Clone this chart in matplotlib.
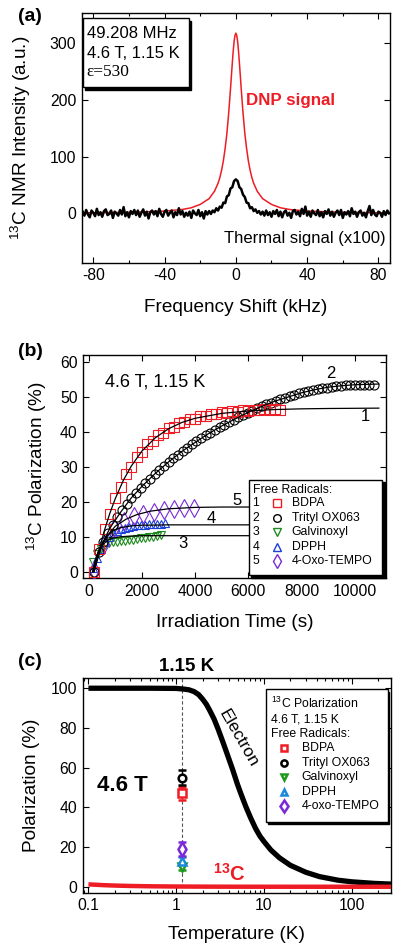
import numpy as np
import matplotlib
matplotlib.use("Agg")
import matplotlib.pyplot as plt
from matplotlib.patches import Rectangle

plt.rcParams['font.family'] = ['Liberation Sans', 'DejaVu Sans']
plt.rcParams['mathtext.fontset'] = 'custom'
plt.rcParams['mathtext.rm'] = 'Liberation Sans'
plt.rcParams['mathtext.it'] = 'Liberation Sans:italic'
plt.rcParams['mathtext.bf'] = 'Liberation Sans:bold'
plt.rcParams['axes.unicode_minus'] = False

# ---------------- (a) NMR spectra ----------------
dnp_freq = [-86, -60, -40, -30, -25, -20, -15, -12, -10, -9, -8, -7, -6, -5, -4, -3.5, -3, -2.5, -2, -1.5, -1, -0.5,
            0, 0.5, 1, 1.5, 2, 2.5, 3, 3.5, 4, 5, 6, 7, 8, 9, 10, 12, 15, 20, 25, 30, 40, 60, 86]
dnp_signal = [0.9, 1.8, 4.0, 6.9, 9.9, 15.8, 26, 39, 53, 63, 76, 93, 115, 142, 178, 199, 220, 243, 265, 286, 303, 314,
              318, 314, 303, 286, 265, 243, 220, 199, 178, 142, 115, 93, 76, 63, 53, 39, 26, 15.8, 9.9, 6.9, 4.0, 1.8, 0.9]

thermal_freq = list(range(-86, 87))
thermal_signal = [
    3, -4, 6, -2, -7, 5, 1, -5, 8, -3,
    2, -6, 4, 7, -3, -1, 5, -8, 3, 0,
    -4, 6, -2, 11, -5, 2, -7, 4, -1, 6,
    -3, 5, -6, 1, 7, -4, 3, -9, 2, 5,
    -2, 4, -5, 8, -1, -6, 3, 6, -4, 1,
    5, -7, 2, -3, 9, -2, 4, -6, 1, -4,
    3, -8, 5, 0, -3, 6, -5, 2, -9, 4,
    -2, 4, -1, 5, 2, 9, 5, 12, 10, 19, 18, 30, 32, 44, 46, 57,
    60,
    57, 46, 43, 33, 29, 19, 18, 9, 11, 4, 7, 1, 4, -2, 3, -4,
    5, -3, 2, -6, 4, -1, 6, -5, 3, -7,
    2, 5, -4, 1, -8, 4, 6, -2, 3, -5,
    8, -1, 12, -4, 3, -6, 5, 0, -3, 6,
    -5, 2, -7, 4, -1, 7, -4, 3, -6, 1,
    5, -3, 6, -8, 2, -2, 4, -5, 9, -1,
    3, -6, 2, 5, -4, 1, -7, 4, 13, -3,
    6, -2, -5, 3, 1, -6, 4, -3, 5, 0]

# ---------------- (b) buildup curves ----------------
bdpa_t = list(range(200, 7201, 200))
bdpa_p = [0.0, 6.6, 12.3, 16.5, 21.2, 24.3, 27.9, 30.0, 32.8, 34.3, 36.4, 37.4, 39.1, 39.8, 41.0, 41.5,
          42.5, 42.8, 43.6, 43.8, 44.5, 44.5, 45.1, 45.2, 45.6, 45.5, 45.9, 45.8, 46.2, 46.1, 46.4, 46.2,
          46.5, 46.3, 46.6, 46.4]
trityl_t = list(range(200, 10701, 175))
trityl_p = [0.0, 5.5, 8.5, 11.0, 13.3, 15.6, 17.6, 19.4, 21.1, 22.6, 24.0, 25.3, 26.6, 27.9, 29.1, 30.3,
            31.4, 32.5, 33.5, 34.5, 35.5, 36.4, 37.3, 38.2, 39.0, 39.8, 40.6, 41.4, 42.1, 42.8, 43.5, 44.2,
            44.8, 45.5, 46.1, 46.7, 47.3, 47.9, 48.4, 48.9, 49.4, 49.8, 50.3, 50.7, 51.0, 51.4, 51.7, 52.0,
            52.3, 52.5, 52.7, 52.9, 53.1, 53.2, 53.3, 53.4, 53.5, 53.5, 53.5, 53.4, 53.4]
galv_t = list(range(150, 2701, 150))
galv_p = [2.8, 5.0, 6.6, 7.6, 8.1, 8.4, 8.6, 8.8, 8.9, 9.0, 9.2, 9.3, 9.5, 9.6, 9.8, 9.9, 10.2, 10.4]
dpph_t = list(range(150, 2851, 150))
dpph_p = [1.0, 4.0, 6.5, 8.5, 10.0, 11.0, 11.7, 12.2, 12.6, 12.9, 13.1, 13.3, 13.4, 13.5, 13.6, 13.6,
          13.7, 13.7, 13.8]
tempo_t = [185, 560, 935, 1310, 1685, 2060, 2440, 2815, 3190, 3570, 3944]
tempo_p = [0.5, 8.0, 12.5, 14.5, 15.8, 16.6, 17.2, 17.7, 18.0, 18.2, 18.3]

fit1_t = [200, 400, 600, 800, 1000, 1300, 1600, 2000, 2500, 3000, 3500, 4000, 5000, 6000, 7000, 8000, 9000, 10900]
fit1_p = [0, 6.4, 12.0, 16.8, 20.9, 26.1, 30.2, 34.5, 38.3, 40.9, 42.7, 43.9, 45.3, 46.0, 46.4, 46.6, 46.7, 46.8]
fit2_t = [200, 500, 800, 1200, 1600, 2000, 2500, 3000, 3500, 4000, 4500, 5000, 5500, 6000, 6500, 7000, 7500,
          8000, 8500, 9000, 9500, 10000, 10900]
fit2_p = [0, 7.8, 12.5, 17.0, 21.1, 24.4, 28.1, 31.4, 34.4, 37.0, 39.5, 41.7, 43.7, 45.6, 47.3, 48.8, 50.0,
          51.2, 52.1, 52.8, 53.2, 53.5, 53.7]
fit3_t = [150, 250, 350, 500, 700, 900, 1200, 1600, 2000, 10900]
fit3_p = [0, 3.2, 5.5, 7.5, 8.9, 9.6, 10.0, 10.2, 10.3, 10.3]
fit4_t = [150, 250, 350, 500, 700, 900, 1200, 1600, 2000, 3000, 10900]
fit4_p = [0, 3.0, 5.5, 8.0, 10.3, 11.6, 12.6, 13.1, 13.3, 13.4, 13.4]
fit5_t = [150, 300, 500, 700, 1000, 1400, 1800, 2300, 3000, 4000, 5000, 10900]
fit5_p = [0, 3.5, 7.5, 10.3, 13.0, 15.0, 16.3, 17.3, 18.0, 18.4, 18.5, 18.5]

radicals_b = ['BDPA', 'Trityl OX063', 'Galvinoxyl', 'DPPH', '4-Oxo-TEMPO']

# ---------------- (c) polarization vs temperature ----------------
temp_e = [0.1, 0.5, 1.0, 1.2, 1.4, 1.6, 1.8, 2.0, 2.2, 2.4, 2.7, 3.0, 3.4, 3.8, 4.4, 5.0, 5.5, 6.2, 7.0,
          8.0, 9.0, 10, 12, 15, 20, 30, 43, 70, 100, 180, 300]
pol_e = [100, 100, 99.9, 99.6, 99.2, 98.3, 96.8, 94.5, 92.0, 89.0, 84.5, 79.5, 73.0, 67.0, 59.0, 51.5,
         46.5, 40.5, 35.0, 29.5, 25.5, 22.8, 18.5, 14.6, 10.8, 7.3, 5.1, 3.3, 2.5, 1.7, 1.3]
temp_c = [0.1, 0.15, 0.2, 0.3, 0.5, 1.0, 3.0, 10.0, 300]
pol_c = [1.2, 0.8, 0.6, 0.4, 0.24, 0.12, 0.04, 0.01, 0.0]

t_exp = 1.15
radicals_c = ['BDPA', 'Trityl OX063', 'Galvinoxyl', 'DPPH', '4-oxo-TEMPO']
pol_c13 = [47.0, 55.0, 9.8, 13.0, 19.0]
err_c13 = [3.3, 3.7, 1.5, 1.8, 3.3]

# ---------------- styling ----------------
RED = '#ee1c24'
TICK_FS = 11.3
LABEL_FS = 13.7
fig = plt.figure(figsize=(4.0, 9.5), dpi=100)

def style_axes(ax):
    ax.tick_params(which='both', direction='in', top=True, right=True, labelsize=TICK_FS,
                   width=0.8, pad=4)
    ax.tick_params(which='major', length=4)
    ax.tick_params(which='minor', length=2.5)
    for s in ax.spines.values():
        s.set_linewidth(1.0)

def shadow_box(ax, x0, y0, x1, y1, dx=0.007, dy=0.010):
    ax.add_patch(Rectangle((x0 + dx, y0 - dy), x1 - x0, y1 - y0, transform=ax.transAxes,
                           facecolor='black', edgecolor='black', lw=1.0, zorder=9, clip_on=False))
    ax.add_patch(Rectangle((x0, y0), x1 - x0, y1 - y0, transform=ax.transAxes,
                           facecolor='white', edgecolor='black', lw=1.0, zorder=10, clip_on=False))

# (a)
axa = fig.add_axes([0.2043, 0.7235, 0.7707, 0.2625])
axa.plot(dnp_freq, dnp_signal, color=RED, lw=1.1, zorder=2)
axa.plot(thermal_freq, thermal_signal, color='black', lw=1.8, zorder=3)
axa.set_xlim(-86.5, 86.5)
axa.set_ylim(-87, 353)
axa.set_xticks([-80, -40, 0, 40, 80])
axa.set_xticks([-60, -20, 20, 60], minor=True)
axa.set_yticks([0, 100, 200, 300])
style_axes(axa)
axa.set_xlabel('Frequency Shift (kHz)', fontsize=LABEL_FS, labelpad=11)
axa.set_ylabel('$^{13}$C NMR Intensity (a.u.)', fontsize=LABEL_FS, labelpad=12)
axa.text(5.6, 199, 'DNP signal', color=RED, fontsize=12.2, fontweight='bold', va='center', ha='left')
axa.text(84, -44, 'Thermal signal (x100)', color='black', fontsize=12, va='center', ha='right')
shadow_box(axa, 0.003, 0.703, 0.349, 0.98)
axa.text(0.016, 0.92, '49.208 MHz', transform=axa.transAxes, fontsize=12, va='center', zorder=11)
axa.text(0.016, 0.84, '4.6 T, 1.15 K', transform=axa.transAxes, fontsize=12, va='center', zorder=11)
axa.text(0.016, 0.765, 'ε=530', transform=axa.transAxes, fontsize=12.5, va='center', zorder=11,
         family=['Liberation Serif', 'DejaVu Serif'])
fig.text(0.045, 0.9826, '(a)', fontsize=14, fontweight='bold', va='center', ha='left')

# (b)
axb = fig.add_axes([0.2083, 0.3916, 0.7555, 0.2347])
fits_t = [fit1_t, fit2_t, fit3_t, fit4_t, fit5_t]
fits_p = [fit1_p, fit2_p, fit3_p, fit4_p, fit5_p]
for ft, fp in zip(fits_t, fits_p):
    axb.plot(ft, fp, color='black', lw=0.9, zorder=4)
series_b = [
    (galv_t, galv_p, 'v', '#1f8a1f', 6.0),
    (dpph_t, dpph_p, '^', '#1a3fd8', 6.0),
    (tempo_t, tempo_p, 'd', '#7a28d8', 9.0),
    (trityl_t, trityl_p, 'o', 'black', 6.5),
    (bdpa_t, bdpa_p, 's', RED, 6.5),
]
for t, p, m, c, ms in series_b:
    axb.plot(t, p, ls='none', marker=m, ms=ms, mfc='none', mec=c, mew=0.8, zorder=3)
axb.set_xlim(-200, 11150)
axb.set_ylim(-1.8, 62)
axb.set_xticks([0, 2000, 4000, 6000, 8000, 10000])
axb.set_yticks([0, 10, 20, 30, 40, 50, 60])
style_axes(axb)
axb.set_xlabel('Irradiation Time (s)', fontsize=LABEL_FS, labelpad=11)
axb.set_ylabel('$^{13}$C Polarization (%)', fontsize=LABEL_FS, labelpad=8)
axb.text(0.072, 0.88, '4.6 T, 1.15 K', transform=axb.transAxes, fontsize=13, va='center')
for lab, (tx, ty) in zip(['2', '1', '5', '4', '3'],
                         [(9080, 56.7), (10400, 44.3), (5575, 20.5), (4600, 15.3), (3544, 8.1)]):
    axb.text(tx, ty, lab, fontsize=12, ha='center', va='center')
shadow_box(axb, 0.548, 0.012, 0.99, 0.44, dx=0.007, dy=0.011)
axb.text(0.5625, 0.395, 'Free Radicals:', transform=axb.transAxes, fontsize=8.8, va='center', zorder=11)
leg_style_b = [('s', RED, 5.5), ('o', 'black', 5.5), ('v', '#1f8a1f', 6), ('^', '#1a3fd8', 6), ('d', '#7a28d8', 7)]
for i, (name, (m, c, ms)) in enumerate(zip(radicals_b, leg_style_b)):
    yy = 0.335 - i * 0.065
    axb.text(0.571, yy, str(i + 1), transform=axb.transAxes, fontsize=8.8, va='center', ha='center', zorder=11)
    axb.plot([0.64], [yy], transform=axb.transAxes, marker=m, ms=ms, mfc='none', mec=c, mew=1.0,
             ls='none', zorder=11, clip_on=False)
    axb.text(0.69, yy, name, transform=axb.transAxes, fontsize=8.8, va='center', zorder=11)
fig.text(0.045, 0.6305, '(b)', fontsize=14, fontweight='bold', va='center', ha='left')

# (c)
axc = fig.add_axes([0.2067, 0.0603, 0.77, 0.2257])
axc.plot(temp_e, pol_e, color='black', lw=3.8, solid_capstyle='butt', solid_joinstyle='round', zorder=3)
axc.plot(temp_c, pol_c, color=RED, lw=3.2, solid_capstyle='butt', zorder=3)
axc.axvline(t_exp, color='#555555', lw=0.8, ls=(0, (3, 2)), zorder=2)
colors_c = [RED, 'black', '#1f9a1f', '#1a8ad8', '#7a28d8']
markers_c = ['s', 'o', 'v', '^', 'd']
order = [2, 3, 4, 0, 1]
for i in order:
    axc.errorbar([t_exp], [pol_c13[i]], yerr=[err_c13[i]], fmt=markers_c[i], ms=5.5 if markers_c[i] != 'd' else 7,
                 mfc='white', mec=colors_c[i], mew=1.8, ecolor=colors_c[i], elinewidth=1.0,
                 capsize=3, capthick=1.0, zorder=5)
axc.set_xscale('log')
axc.set_xlim(0.086, 278)
axc.set_ylim(-3, 105)
axc.set_xticks([0.1, 1, 10, 100])
axc.set_xticklabels(['0.1', '1', '10', '100'])
axc.set_yticks([0, 20, 40, 60, 80, 100])
style_axes(axc)
axc.set_xlabel('Temperature (K)', fontsize=LABEL_FS, labelpad=9.5)
axc.set_ylabel('Polarization (%)', fontsize=LABEL_FS, labelpad=8)
axc.text(0.045, 0.502, '4.6 T', transform=axc.transAxes, fontsize=16, fontweight='bold', va='center')
axc.text(0.338, 1.054, '1.15 K', transform=axc.transAxes, fontsize=13.5, fontweight='bold',
         va='center', ha='center')
axc.text(0.505, 0.72, 'Electron', transform=axc.transAxes, fontsize=12.5, rotation=-60,
         va='center', ha='center', rotation_mode='anchor')
axc.text(0.475, 0.09, r'$\mathbf{^{13}C}$', transform=axc.transAxes, fontsize=14.5, color=RED,
         va='center', ha='center')
shadow_box(axc, 0.595, 0.331, 0.99, 0.949, dx=0.006, dy=0.011)
axc.text(0.61, 0.883, '$^{13}$C Polarization', transform=axc.transAxes, fontsize=8.8, va='center', zorder=11)
axc.text(0.61, 0.806, '4.6 T, 1.15 K', transform=axc.transAxes, fontsize=8.8, va='center', zorder=11)
axc.text(0.61, 0.74, 'Free Radicals:', transform=axc.transAxes, fontsize=8.8, va='center', zorder=11)
for i, name in enumerate(radicals_c):
    yy = 0.673 - i * 0.067
    axc.plot([0.655], [yy], transform=axc.transAxes, marker=markers_c[i], ms=4.5 if markers_c[i] != 'd' else 6,
             mfc='white', mec=colors_c[i], mew=1.8, ls='none', zorder=11, clip_on=False)
    axc.text(0.711, yy, name, transform=axc.transAxes, fontsize=8.8, va='center', zorder=11)
fig.text(0.045, 0.3035, '(c)', fontsize=14, fontweight='bold', va='center', ha='left')

fig.savefig('out.png', dpi=100)
